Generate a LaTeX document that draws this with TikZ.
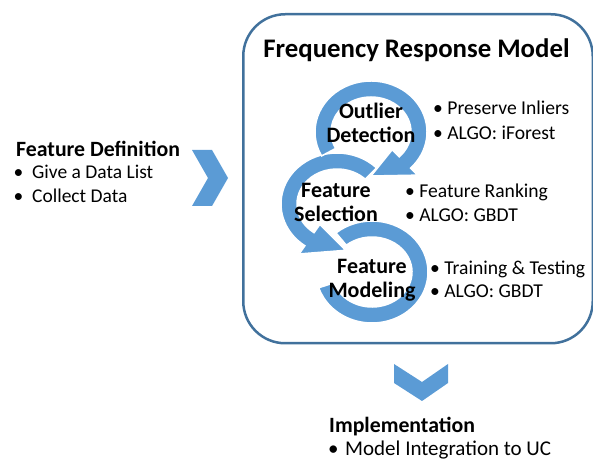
\documentclass[tikz,border=0pt]{standalone}
\usepackage{fontspec}
\setmainfont{Carlito}
\usetikzlibrary{positioning}
\definecolor{cycleblue}{HTML}{5B9BD5}
\definecolor{frameblue}{HTML}{41719C}

\begin{document}
\begin{tikzpicture}[x=1pt,y=1pt,
	cyc/.style={fill=cycleblue,draw=white,line width=1.5pt},
	chev/.style={fill=cycleblue},
	hdr/.style={font=\fontsize{21.8}{26}\selectfont\bfseries,anchor=base west,inner sep=0pt},
	stage/.style={font=\fontsize{22}{24}\selectfont\bfseries,align=center,inner sep=0pt},
	item/.style={font=\fontsize{19.6}{23}\selectfont,anchor=base west,inner sep=0pt},
	lbullet/.style={font=\fontsize{19.5}{23}\selectfont,anchor=base west,inner sep=0pt}]
	\useasboundingbox (0,0) rectangle (593,462);
	\node [draw=frameblue,line width=2.5pt,rounded corners=42pt,minimum width=349.5pt,minimum height=329pt,inner sep=0pt,anchor=north west] at (242,449) (frame) {};
	\node [font=\fontsize{26.8}{30}\selectfont\bfseries,anchor=base,inner sep=0pt] at (416.5,404) (title) {Frequency Response Model};
	\coordinate (c1) at (371,330);
	\coordinate (c2) at (337,258);
	\coordinate (c3) at (372,190);
	\filldraw [cyc] ([shift={(130:56 and 51)}]c3) arc [start angle=130,end angle=-162,x radius=56,y radius=51]
		-- ([shift={(-162:40 and 35)}]c3) arc [start angle=-162,end angle=130,x radius=40,y radius=35] -- cycle;
	\filldraw [cyc] ([shift={(45:56 and 51)}]c2) arc [start angle=45,end angle=235,x radius=56,y radius=51]
		-- ([shift={(235:66 and 61)}]c2) -- ([shift={(280:50 and 47)}]c2) -- ([shift={(235:30 and 25)}]c2)
		-- ([shift={(235:40 and 35)}]c2) arc [start angle=235,end angle=45,x radius=40,y radius=35] -- cycle;
	\filldraw [cyc] ([shift={(208:56 and 51)}]c1) arc [start angle=208,end angle=-45,x radius=56,y radius=51]
		-- ([shift={(-45:66 and 61)}]c1) -- ([shift={(-90:48 and 44)}]c1) -- ([shift={(-45:30 and 25)}]c1)
		-- ([shift={(-45:40 and 35)}]c1) arc [start angle=-45,end angle=208,x radius=40,y radius=35] -- cycle;
	\node [stage] at (371,339) (outlier) {Outlier\\Detection};
	\node [stage] at (336,260) (selection) {Feature\\Selection};
	\node [stage] at (372,181.5) (modeling) {Feature\\Modeling};
	\node [item] at (433,347) (inliers) {• Preserve Inliers};
	\node [item] at ([yshift=-25pt]inliers.base west) (iforest) {• ALGO: iForest};
	\node [item] at (405,264) (ranking) {• Feature Ranking};
	\node [item] at ([yshift=-24pt]ranking.base west) (gbdtsel) {• ALGO: GBDT};
	\node [item] at (430,187) (training) {• Training \& Testing};
	\node [item] at ([yshift=-23pt]training.base west) (gbdtmod) {• ALGO: GBDT};
	\node [hdr] at (16,305) (definition) {Feature Definition};
	\node [lbullet] at (13.5,283) (datalist) {\makebox[18.5pt][l]{•}Give a Data List};
	\node [lbullet] at ([yshift=-24pt]datalist.base west) (collect) {\makebox[18.5pt][l]{•}Collect Data};
	\fill [chev] (192,312) -- (212,312) -- (228,284) -- (212,256) -- (192,256) -- (208,284) -- cycle;
	\fill [chev] (394,98) -- (422,80) -- (448,98) -- (448,79) -- (422,61) -- (394,79) -- cycle;
	\node [hdr] at (329,29) (impl) {Implementation};
	\node [lbullet,font=\fontsize{21}{25}\selectfont] at (328,6) (integration) {\makebox[17pt][l]{•}Model Integration to UC};
\end{tikzpicture}
\end{document}
